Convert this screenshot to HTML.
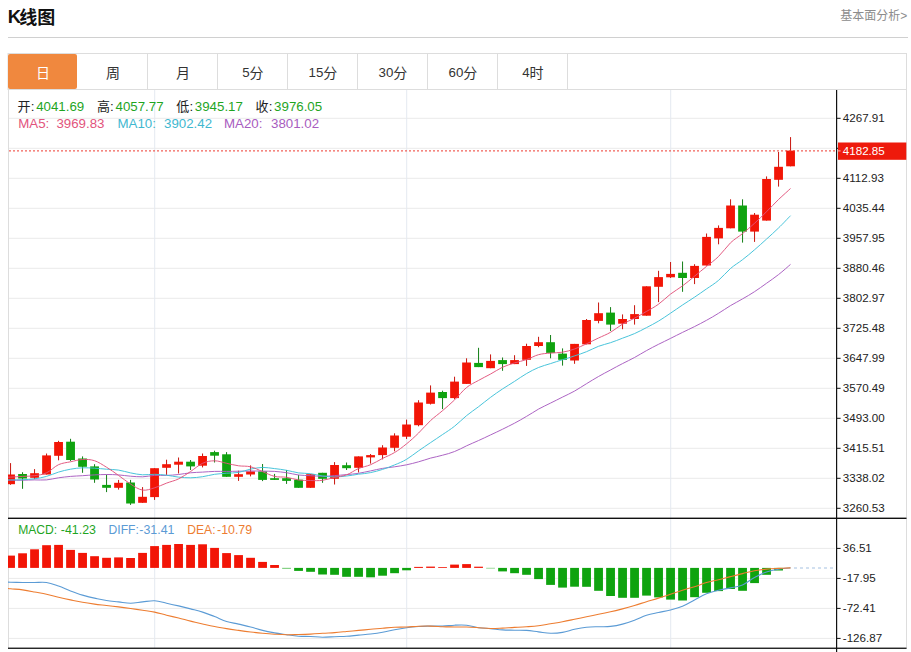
<!DOCTYPE html>
<html><head><meta charset="utf-8"><title>K</title>
<style>
html,body{margin:0;padding:0;background:#fff;}
body{width:911px;height:652px;position:relative;overflow:hidden;font-family:"Liberation Sans",sans-serif;}
svg text{font-family:"Liberation Sans","Noto Sans CJK SC",sans-serif;}
</style></head><body>
<svg width="911" height="652" viewBox="0 0 911 652" style="position:absolute;left:0;top:0">
<defs><clipPath id="cp"><rect x="8" y="90" width="828.5" height="560"/></clipPath></defs>
<rect width="911" height="652" fill="#fff"/>
<text x="7.7" y="22.8" font-size="18.5" font-weight="bold" fill="#111">K</text>
<text x="19.3" y="23.6" font-size="18" font-weight="bold" fill="#111">线图</text>
<text x="840.2" y="20" font-size="12" fill="#8c8c8c">基本面分析</text>
<text x="900.2" y="20" font-size="12" fill="#8c8c8c">&gt;</text>
<rect x="8" y="37" width="900" height="1" fill="#d0d0d0"/>
<rect x="8" y="53.5" width="898.5" height="36" fill="#fff" stroke="#ddd" stroke-width="1"/>
<rect x="147.0" y="54" width="1" height="35" fill="#ddd"/>
<rect x="217.0" y="54" width="1" height="35" fill="#ddd"/>
<rect x="287.0" y="54" width="1" height="35" fill="#ddd"/>
<rect x="357.0" y="54" width="1" height="35" fill="#ddd"/>
<rect x="427.0" y="54" width="1" height="35" fill="#ddd"/>
<rect x="497.0" y="54" width="1" height="35" fill="#ddd"/>
<rect x="567.0" y="54" width="1" height="35" fill="#ddd"/>
<rect x="8" y="54" width="69" height="35" rx="2" fill="#f0883e"/>
<text x="35.9" y="77.6" font-size="14" fill="#fff">日</text>
<text x="105.9" y="77.6" font-size="14" fill="#333">周</text>
<text x="175.9" y="77.6" font-size="14" fill="#333">月</text>
<text x="242.2" y="77.3" font-size="13.3" fill="#333">5</text>
<text x="249.6" y="77.6" font-size="14" fill="#333">分</text>
<text x="308.5" y="77.3" font-size="13.3" fill="#333">15</text>
<text x="323.3" y="77.6" font-size="14" fill="#333">分</text>
<text x="378.5" y="77.3" font-size="13.3" fill="#333">30</text>
<text x="393.3" y="77.6" font-size="14" fill="#333">分</text>
<text x="448.5" y="77.3" font-size="13.3" fill="#333">60</text>
<text x="463.3" y="77.6" font-size="14" fill="#333">分</text>
<text x="522.2" y="77.3" font-size="13.3" fill="#333">4</text>
<text x="529.6" y="77.6" font-size="14" fill="#333">时</text>
<rect x="8" y="90" width="1" height="558" fill="#ddd"/>
<rect x="906" y="54" width="1" height="595" fill="#ddd"/>
<rect x="9" y="117.8" width="826" height="1" fill="#eaeaea"/>
<rect x="9" y="147.8" width="826" height="1" fill="#eaeaea"/>
<rect x="9" y="177.8" width="826" height="1" fill="#eaeaea"/>
<rect x="9" y="207.8" width="826" height="1" fill="#eaeaea"/>
<rect x="9" y="237.8" width="826" height="1" fill="#eaeaea"/>
<rect x="9" y="267.8" width="826" height="1" fill="#eaeaea"/>
<rect x="9" y="297.8" width="826" height="1" fill="#eaeaea"/>
<rect x="9" y="327.8" width="826" height="1" fill="#eaeaea"/>
<rect x="9" y="357.8" width="826" height="1" fill="#eaeaea"/>
<rect x="9" y="387.8" width="826" height="1" fill="#eaeaea"/>
<rect x="9" y="417.8" width="826" height="1" fill="#eaeaea"/>
<rect x="9" y="447.8" width="826" height="1" fill="#eaeaea"/>
<rect x="9" y="477.8" width="826" height="1" fill="#eaeaea"/>
<rect x="9" y="507.8" width="826" height="1" fill="#eaeaea"/>
<rect x="9" y="547.9" width="826" height="1" fill="#eaeaea"/>
<rect x="9" y="577.9" width="826" height="1" fill="#eaeaea"/>
<rect x="9" y="607.9" width="826" height="1" fill="#eaeaea"/>
<rect x="9" y="637.9" width="826" height="1" fill="#eaeaea"/>
<rect x="154.2" y="90" width="1" height="558" fill="#e4e9f0"/>
<rect x="406.2" y="90" width="1" height="558" fill="#e4e9f0"/>
<rect x="670.2" y="90" width="1" height="558" fill="#e4e9f0"/>
<g clip-path="url(#cp)">
<rect x="10.05" y="463.1" width="1" height="21.7" fill="#c9160e"/>
<rect x="6.15" y="474.5" width="8.8" height="9.7" fill="#f21506"/>
<rect x="22.05" y="472.2" width="1" height="16.6" fill="#137f17"/>
<rect x="18.15" y="474.0" width="8.8" height="4.5" fill="#0fa30f"/>
<rect x="34.05" y="469.1" width="1" height="10.1" fill="#c9160e"/>
<rect x="30.15" y="473.2" width="8.8" height="4.6" fill="#f21506"/>
<rect x="46.05" y="453.5" width="1" height="21.0" fill="#c9160e"/>
<rect x="42.15" y="455.4" width="8.8" height="19.1" fill="#f21506"/>
<rect x="58.05" y="440.8" width="1" height="19.5" fill="#c9160e"/>
<rect x="54.15" y="442.0" width="8.8" height="13.8" fill="#f21506"/>
<rect x="70.05" y="438.8" width="1" height="22.3" fill="#137f17"/>
<rect x="66.15" y="441.7" width="8.8" height="18.3" fill="#0fa30f"/>
<rect x="82.05" y="456.4" width="1" height="16.4" fill="#137f17"/>
<rect x="78.15" y="458.5" width="8.8" height="8.3" fill="#0fa30f"/>
<rect x="94.05" y="464.2" width="1" height="18.6" fill="#137f17"/>
<rect x="90.15" y="466.4" width="8.8" height="13.1" fill="#0fa30f"/>
<rect x="106.05" y="474.5" width="1" height="17.6" fill="#137f17"/>
<rect x="102.15" y="484.9" width="8.8" height="2.9" fill="#0fa30f"/>
<rect x="118.05" y="479.9" width="1" height="9.7" fill="#c9160e"/>
<rect x="114.15" y="482.8" width="8.8" height="5.0" fill="#f21506"/>
<rect x="130.05" y="479.9" width="1" height="25.0" fill="#137f17"/>
<rect x="126.15" y="482.5" width="8.8" height="21.0" fill="#0fa30f"/>
<rect x="142.05" y="487.1" width="1" height="15.7" fill="#c9160e"/>
<rect x="138.15" y="496.8" width="8.8" height="6.0" fill="#f21506"/>
<rect x="154.05" y="468.2" width="1" height="31.7" fill="#c9160e"/>
<rect x="150.15" y="468.2" width="8.8" height="28.9" fill="#f21506"/>
<rect x="166.05" y="459.7" width="1" height="15.2" fill="#c9160e"/>
<rect x="162.15" y="464.2" width="8.8" height="3.6" fill="#f21506"/>
<rect x="178.05" y="457.5" width="1" height="16.0" fill="#c9160e"/>
<rect x="174.15" y="461.7" width="8.8" height="3.0" fill="#f21506"/>
<rect x="190.05" y="460.0" width="1" height="10.0" fill="#137f17"/>
<rect x="186.15" y="461.7" width="8.8" height="4.7" fill="#0fa30f"/>
<rect x="202.05" y="453.5" width="1" height="13.9" fill="#c9160e"/>
<rect x="198.15" y="456.0" width="8.8" height="9.7" fill="#f21506"/>
<rect x="214.05" y="450.7" width="1" height="11.8" fill="#137f17"/>
<rect x="210.15" y="452.1" width="8.8" height="3.6" fill="#0fa30f"/>
<rect x="226.05" y="452.1" width="1" height="24.7" fill="#137f17"/>
<rect x="222.15" y="454.3" width="8.8" height="22.5" fill="#0fa30f"/>
<rect x="238.05" y="470.7" width="1" height="10.2" fill="#c9160e"/>
<rect x="234.15" y="474.2" width="8.8" height="2.6" fill="#f21506"/>
<rect x="250.05" y="465.4" width="1" height="11.0" fill="#c9160e"/>
<rect x="246.15" y="471.4" width="8.8" height="3.1" fill="#f21506"/>
<rect x="262.05" y="464.0" width="1" height="17.1" fill="#137f17"/>
<rect x="258.15" y="471.4" width="8.8" height="8.5" fill="#0fa30f"/>
<rect x="274.05" y="473.9" width="1" height="6.0" fill="#137f17"/>
<rect x="270.15" y="478.2" width="8.8" height="1.7" fill="#0fa30f"/>
<rect x="286.05" y="470.0" width="1" height="13.9" fill="#137f17"/>
<rect x="282.15" y="478.2" width="8.8" height="2.7" fill="#0fa30f"/>
<rect x="298.05" y="474.9" width="1" height="12.9" fill="#137f17"/>
<rect x="294.15" y="479.7" width="8.8" height="8.1" fill="#0fa30f"/>
<rect x="310.05" y="474.2" width="1" height="13.6" fill="#c9160e"/>
<rect x="306.15" y="474.2" width="8.8" height="13.6" fill="#f21506"/>
<rect x="322.05" y="472.8" width="1" height="10.0" fill="#137f17"/>
<rect x="318.15" y="472.8" width="8.8" height="6.0" fill="#0fa30f"/>
<rect x="334.05" y="462.1" width="1" height="22.4" fill="#c9160e"/>
<rect x="330.15" y="465.0" width="8.8" height="13.8" fill="#f21506"/>
<rect x="346.05" y="462.5" width="1" height="7.5" fill="#137f17"/>
<rect x="342.15" y="465.2" width="8.8" height="3.0" fill="#0fa30f"/>
<rect x="358.05" y="456.4" width="1" height="16.1" fill="#c9160e"/>
<rect x="354.15" y="456.4" width="8.8" height="11.4" fill="#f21506"/>
<rect x="370.05" y="454.0" width="1" height="9.6" fill="#c9160e"/>
<rect x="366.15" y="455.1" width="8.8" height="2.3" fill="#f21506"/>
<rect x="382.05" y="445.2" width="1" height="14.2" fill="#c9160e"/>
<rect x="378.15" y="447.5" width="8.8" height="7.6" fill="#f21506"/>
<rect x="394.05" y="433.3" width="1" height="18.0" fill="#c9160e"/>
<rect x="390.15" y="435.5" width="8.8" height="12.3" fill="#f21506"/>
<rect x="406.05" y="419.6" width="1" height="19.4" fill="#c9160e"/>
<rect x="402.15" y="424.5" width="8.8" height="12.2" fill="#f21506"/>
<rect x="418.05" y="400.2" width="1" height="26.1" fill="#c9160e"/>
<rect x="414.15" y="402.5" width="8.8" height="22.7" fill="#f21506"/>
<rect x="430.05" y="385.4" width="1" height="19.1" fill="#c9160e"/>
<rect x="426.15" y="392.6" width="8.8" height="11.2" fill="#f21506"/>
<rect x="442.05" y="390.7" width="1" height="18.4" fill="#137f17"/>
<rect x="438.15" y="392.0" width="8.8" height="6.1" fill="#0fa30f"/>
<rect x="454.05" y="376.7" width="1" height="22.5" fill="#c9160e"/>
<rect x="450.15" y="381.6" width="8.8" height="16.5" fill="#f21506"/>
<rect x="466.05" y="358.3" width="1" height="25.6" fill="#c9160e"/>
<rect x="462.15" y="362.5" width="8.8" height="21.4" fill="#f21506"/>
<rect x="478.05" y="347.8" width="1" height="19.3" fill="#137f17"/>
<rect x="474.15" y="362.9" width="8.8" height="4.2" fill="#0fa30f"/>
<rect x="490.05" y="354.4" width="1" height="13.8" fill="#c9160e"/>
<rect x="486.15" y="360.9" width="8.8" height="7.3" fill="#f21506"/>
<rect x="502.05" y="357.5" width="1" height="13.3" fill="#137f17"/>
<rect x="498.15" y="360.1" width="8.8" height="4.0" fill="#0fa30f"/>
<rect x="514.05" y="355.2" width="1" height="8.9" fill="#c9160e"/>
<rect x="510.15" y="360.1" width="8.8" height="4.0" fill="#f21506"/>
<rect x="526.05" y="343.7" width="1" height="22.2" fill="#c9160e"/>
<rect x="522.15" y="346.0" width="8.8" height="13.8" fill="#f21506"/>
<rect x="538.05" y="336.8" width="1" height="10.4" fill="#c9160e"/>
<rect x="534.15" y="342.2" width="8.8" height="3.8" fill="#f21506"/>
<rect x="550.05" y="335.0" width="1" height="23.3" fill="#137f17"/>
<rect x="546.15" y="342.2" width="8.8" height="10.7" fill="#0fa30f"/>
<rect x="562.05" y="348.4" width="1" height="17.2" fill="#137f17"/>
<rect x="558.15" y="353.6" width="8.8" height="6.2" fill="#0fa30f"/>
<rect x="574.05" y="343.9" width="1" height="19.9" fill="#c9160e"/>
<rect x="570.15" y="343.9" width="8.8" height="16.6" fill="#f21506"/>
<rect x="586.05" y="319.0" width="1" height="25.3" fill="#c9160e"/>
<rect x="582.15" y="320.0" width="8.8" height="24.3" fill="#f21506"/>
<rect x="598.05" y="302.5" width="1" height="20.8" fill="#c9160e"/>
<rect x="594.15" y="313.2" width="8.8" height="7.7" fill="#f21506"/>
<rect x="610.05" y="307.1" width="1" height="23.9" fill="#137f17"/>
<rect x="606.15" y="312.6" width="8.8" height="12.0" fill="#0fa30f"/>
<rect x="622.05" y="314.4" width="1" height="14.8" fill="#c9160e"/>
<rect x="618.15" y="319.0" width="8.8" height="4.7" fill="#f21506"/>
<rect x="634.05" y="305.2" width="1" height="19.4" fill="#c9160e"/>
<rect x="630.15" y="314.1" width="8.8" height="4.9" fill="#f21506"/>
<rect x="646.05" y="286.3" width="1" height="29.4" fill="#c9160e"/>
<rect x="642.15" y="286.3" width="8.8" height="29.4" fill="#f21506"/>
<rect x="658.05" y="270.8" width="1" height="31.3" fill="#c9160e"/>
<rect x="654.15" y="277.1" width="8.8" height="9.7" fill="#f21506"/>
<rect x="670.05" y="262.0" width="1" height="16.0" fill="#c9160e"/>
<rect x="666.15" y="273.9" width="8.8" height="3.4" fill="#f21506"/>
<rect x="682.05" y="261.5" width="1" height="30.3" fill="#137f17"/>
<rect x="678.15" y="272.8" width="8.8" height="5.2" fill="#0fa30f"/>
<rect x="694.05" y="264.2" width="1" height="19.9" fill="#c9160e"/>
<rect x="690.15" y="265.9" width="8.8" height="12.1" fill="#f21506"/>
<rect x="706.05" y="233.5" width="1" height="32.0" fill="#c9160e"/>
<rect x="702.15" y="236.9" width="8.8" height="28.6" fill="#f21506"/>
<rect x="718.05" y="225.4" width="1" height="18.9" fill="#c9160e"/>
<rect x="714.15" y="227.9" width="8.8" height="10.5" fill="#f21506"/>
<rect x="730.05" y="199.3" width="1" height="29.0" fill="#c9160e"/>
<rect x="726.15" y="205.5" width="8.8" height="22.8" fill="#f21506"/>
<rect x="742.05" y="199.3" width="1" height="43.3" fill="#137f17"/>
<rect x="738.15" y="205.5" width="8.8" height="26.1" fill="#0fa30f"/>
<rect x="754.05" y="213.0" width="1" height="28.9" fill="#c9160e"/>
<rect x="750.15" y="214.7" width="8.8" height="16.9" fill="#f21506"/>
<rect x="766.05" y="176.4" width="1" height="44.2" fill="#c9160e"/>
<rect x="762.15" y="179.0" width="8.8" height="41.6" fill="#f21506"/>
<rect x="778.05" y="152.0" width="1" height="34.6" fill="#c9160e"/>
<rect x="774.15" y="166.8" width="8.8" height="13.0" fill="#f21506"/>
<rect x="790.05" y="137.1" width="1" height="29.2" fill="#c9160e"/>
<rect x="786.15" y="150.6" width="8.8" height="15.7" fill="#f21506"/>
<path d="M-1.4 480.3C0.7 480.3 6.4 480.2 10.6 480.2C14.8 480.2 18.4 480.3 22.6 480.2C26.8 480.1 30.3 480.0 34.5 479.9C38.8 479.8 42.3 480.3 46.5 479.9C50.8 479.5 54.3 478.4 58.5 477.8C62.8 477.2 66.3 476.8 70.5 476.4C74.8 476.0 78.3 476.0 82.5 475.7C86.8 475.4 90.3 475.1 94.5 474.9C98.8 474.7 102.3 474.5 106.5 474.5C110.8 474.5 114.3 474.6 118.5 474.9C122.8 475.2 126.4 475.9 130.6 476.2C134.8 476.5 138.4 476.9 142.6 476.8C146.8 476.7 150.4 475.6 154.6 475.4C158.8 475.2 162.4 475.6 166.6 475.4C170.8 475.2 174.4 475.0 178.6 474.5C182.8 474.0 186.4 473.2 190.6 472.8C194.8 472.4 198.4 472.3 202.6 472.1C206.8 471.9 210.4 471.5 214.6 471.4C218.8 471.3 222.4 471.4 226.6 471.4C230.8 471.4 234.4 471.3 238.6 471.2C242.8 471.1 246.4 471.1 250.6 471.0C254.8 471.0 258.4 471.0 262.6 471.1C266.8 471.2 270.4 471.2 274.6 471.4C278.8 471.7 282.4 472.1 286.6 472.7C290.8 473.3 294.4 474.5 298.6 475.0C302.8 475.5 306.4 475.5 310.6 475.7C314.8 476.0 318.4 476.3 322.6 476.3C326.8 476.3 330.4 475.9 334.6 475.6C338.8 475.3 342.4 475.0 346.6 474.6C350.8 474.2 354.4 474.0 358.6 473.3C362.8 472.6 366.4 471.7 370.6 470.9C374.8 470.0 378.4 469.1 382.6 468.4C386.8 467.7 390.4 467.4 394.6 466.8C398.8 466.1 402.4 465.7 406.6 464.8C410.8 463.9 414.4 463.0 418.6 461.8C422.8 460.7 426.4 459.3 430.6 458.1C434.8 457.0 438.4 456.4 442.6 455.2C446.8 454.1 450.4 453.2 454.6 451.5C458.8 449.9 462.4 447.8 466.6 445.8C470.8 443.9 474.4 442.4 478.6 440.5C482.8 438.6 486.4 436.9 490.6 434.9C494.8 433.0 498.4 431.2 502.6 429.2C506.8 427.1 510.3 425.4 514.5 423.2C518.8 420.9 522.3 418.9 526.5 416.4C530.8 414.0 534.3 411.5 538.5 409.1C542.8 406.8 546.3 405.2 550.5 403.1C554.8 401.0 558.3 399.2 562.5 397.1C566.8 395.0 570.3 393.4 574.5 391.1C578.8 388.7 582.3 386.2 586.5 383.7C590.8 381.1 594.3 378.9 598.5 376.5C602.8 374.1 606.3 372.2 610.5 370.0C614.8 367.7 618.3 365.7 622.5 363.6C626.8 361.4 630.3 359.8 634.5 357.5C638.8 355.2 642.3 352.9 646.5 350.6C650.8 348.3 654.3 346.4 658.5 344.3C662.8 342.2 666.3 340.5 670.5 338.4C674.8 336.3 678.3 334.4 682.5 332.4C686.8 330.3 690.3 328.7 694.5 326.6C698.8 324.5 702.3 322.6 706.5 320.3C710.8 318.0 714.3 315.9 718.5 313.3C722.8 310.8 726.3 308.1 730.5 305.6C734.8 303.1 738.3 301.4 742.5 298.9C746.8 296.5 750.3 294.4 754.5 291.7C758.8 288.9 762.3 286.3 766.5 283.3C770.8 280.3 774.3 277.9 778.5 274.6C782.8 271.3 788.4 266.2 790.5 264.4" fill="none" stroke="#a85cc0" stroke-width="0.95"/>
<path d="M-1.4 480.0C0.7 480.0 6.4 480.0 10.6 479.9C14.8 479.8 18.4 479.9 22.6 479.7C26.8 479.5 30.3 479.4 34.5 478.8C38.8 478.2 42.3 477.6 46.5 476.4C50.8 475.2 54.3 473.4 58.5 472.1C62.8 470.8 66.3 470.0 70.5 469.2C74.8 468.4 78.3 468.0 82.5 467.8C86.8 467.6 90.3 468.0 94.5 468.2C98.8 468.4 102.3 468.9 106.5 469.2C110.8 469.5 114.3 469.4 118.5 470.1C122.8 470.7 126.4 472.1 130.6 472.9C134.8 473.8 138.4 474.5 142.6 474.8C146.8 475.0 150.4 474.2 154.6 474.3C158.8 474.3 162.4 474.7 166.6 475.2C170.8 475.7 174.4 476.7 178.6 477.1C182.8 477.6 186.4 477.8 190.6 477.8C194.8 477.7 198.4 477.3 202.6 476.7C206.8 476.1 210.4 474.9 214.6 474.3C218.8 473.7 222.4 473.6 226.6 473.2C230.8 472.9 234.4 473.1 238.6 472.4C242.8 471.6 246.4 470.0 250.6 469.1C254.8 468.3 258.4 467.5 262.6 467.4C266.8 467.4 270.4 468.1 274.6 468.6C278.8 469.1 282.4 469.5 286.6 470.3C290.8 471.0 294.4 472.3 298.6 472.9C302.8 473.5 306.4 473.1 310.6 473.7C314.8 474.2 318.4 475.4 322.6 476.0C326.8 476.5 330.4 476.9 334.6 476.9C338.8 476.9 342.4 476.5 346.6 476.0C350.8 475.6 354.4 474.8 358.6 474.2C362.8 473.7 366.4 473.5 370.6 472.6C374.8 471.8 378.4 470.7 382.6 469.4C386.8 468.0 390.4 466.7 394.6 464.9C398.8 463.2 402.4 461.8 406.6 459.3C410.8 456.8 414.4 453.7 418.6 450.8C422.8 447.8 426.4 445.5 430.6 442.6C434.8 439.8 438.4 437.4 442.6 434.5C446.8 431.7 450.4 429.5 454.6 426.2C458.8 422.9 462.4 419.0 466.6 415.6C470.8 412.2 474.4 409.9 478.6 406.7C482.8 403.5 486.4 400.4 490.6 397.3C494.8 394.2 498.4 391.7 502.6 388.9C506.8 386.2 510.3 384.1 514.5 381.4C518.8 378.7 522.3 376.0 526.5 373.6C530.8 371.1 534.3 369.3 538.5 367.5C542.8 365.8 546.3 364.9 550.5 363.6C554.8 362.2 558.3 361.0 562.5 359.7C566.8 358.4 570.3 357.4 574.5 355.9C578.8 354.5 582.3 353.4 586.5 351.7C590.8 350.0 594.3 347.9 598.5 346.3C602.8 344.7 606.3 344.1 610.5 342.7C614.8 341.3 618.3 339.8 622.5 338.2C626.8 336.6 630.3 335.4 634.5 333.6C638.8 331.7 642.3 329.8 646.5 327.6C650.8 325.4 654.3 323.6 658.5 321.1C662.8 318.6 666.3 316.0 670.5 313.2C674.8 310.4 678.3 307.8 682.5 305.0C686.8 302.2 690.3 300.0 694.5 297.2C698.8 294.4 702.3 291.8 706.5 288.9C710.8 286.0 714.3 283.9 718.5 280.4C722.8 276.8 726.3 272.1 730.5 268.5C734.8 264.8 738.3 263.0 742.5 259.7C746.8 256.5 750.3 253.4 754.5 249.8C758.8 246.2 762.3 242.9 766.5 239.1C770.8 235.2 774.3 232.1 778.5 228.0C782.8 223.9 788.4 217.8 790.5 215.7" fill="none" stroke="#3fc1d8" stroke-width="0.95"/>
<path d="M-1.4 477.3C0.7 477.3 6.4 477.3 10.6 477.1C14.8 476.9 18.4 476.6 22.6 476.4C26.8 476.2 30.3 476.3 34.5 475.7C38.8 475.1 42.3 474.7 46.5 472.8C50.8 470.9 54.3 466.6 58.5 464.7C62.8 462.8 66.3 462.7 70.5 461.8C74.8 460.9 78.3 459.7 82.5 459.5C86.8 459.3 90.3 459.4 94.5 460.7C98.8 462.1 102.3 464.7 106.5 467.2C110.8 469.8 114.3 472.4 118.5 475.4C122.8 478.3 126.4 481.5 130.6 484.1C134.8 486.7 138.4 489.4 142.6 490.1C146.8 490.7 150.4 489.0 154.6 487.8C158.8 486.6 162.4 484.7 166.6 483.1C170.8 481.5 174.4 480.9 178.6 478.9C182.8 476.8 186.4 474.2 190.6 471.5C194.8 468.7 198.4 465.2 202.6 463.3C206.8 461.4 210.4 460.8 214.6 460.8C218.8 460.8 222.4 462.4 226.6 463.3C230.8 464.2 234.4 465.2 238.6 465.8C242.8 466.4 246.4 465.8 250.6 466.8C254.8 467.8 258.4 469.9 262.6 471.6C266.8 473.3 270.4 475.4 274.6 476.4C278.8 477.4 282.4 476.6 286.6 477.3C290.8 477.9 294.4 479.4 298.6 480.0C302.8 480.6 306.4 480.5 310.6 480.5C314.8 480.6 318.4 480.9 322.6 480.3C326.8 479.8 330.4 478.3 334.6 477.3C338.8 476.4 342.4 476.3 346.6 474.8C350.8 473.3 354.4 470.3 358.6 468.5C362.8 466.8 366.4 466.5 370.6 464.7C374.8 462.9 378.4 460.6 382.6 458.4C386.8 456.3 390.4 455.1 394.6 452.5C398.8 450.0 402.4 447.2 406.6 443.8C410.8 440.4 414.4 437.1 418.6 433.0C422.8 428.9 426.4 424.4 430.6 420.5C434.8 416.6 438.4 414.3 442.6 410.6C446.8 407.0 450.4 403.9 454.6 399.9C458.8 395.8 462.4 390.9 466.6 387.5C470.8 384.1 474.4 382.7 478.6 380.4C482.8 378.0 486.4 376.3 490.6 374.0C494.8 371.7 498.4 369.2 502.6 367.2C506.8 365.3 510.3 364.3 514.5 362.9C518.8 361.6 522.3 361.1 526.5 359.6C530.8 358.2 534.3 355.8 538.5 354.7C542.8 353.5 546.3 353.5 550.5 353.1C554.8 352.6 558.3 352.9 562.5 352.2C566.8 351.5 570.3 350.4 574.5 349.0C578.8 347.5 582.3 345.7 586.5 343.8C590.8 341.8 594.3 340.0 598.5 338.0C602.8 336.0 606.3 334.7 610.5 332.3C614.8 329.9 618.3 326.6 622.5 324.1C626.8 321.7 630.3 320.4 634.5 318.2C638.8 316.0 642.3 313.9 646.5 311.4C650.8 309.0 654.3 307.3 658.5 304.2C662.8 301.2 666.3 297.3 670.5 294.1C674.8 290.9 678.3 289.0 682.5 285.9C686.8 282.8 690.3 279.7 694.5 276.2C698.8 272.8 702.3 269.8 706.5 266.4C710.8 262.9 714.3 260.6 718.5 256.5C722.8 252.4 726.3 246.9 730.5 242.8C734.8 238.8 738.3 237.0 742.5 233.6C746.8 230.1 750.3 227.1 754.5 223.3C758.8 219.5 762.3 215.9 766.5 211.7C770.8 207.6 774.3 203.6 778.5 199.5C782.8 195.5 788.4 190.5 790.5 188.5" fill="none" stroke="#e2547c" stroke-width="0.95"/>
<rect x="6.15" y="555.6" width="8.8" height="12.3" fill="#f21506"/>
<rect x="18.15" y="553.3" width="8.8" height="14.6" fill="#f21506"/>
<rect x="30.15" y="549.3" width="8.8" height="18.6" fill="#f21506"/>
<rect x="42.15" y="545.2" width="8.8" height="22.7" fill="#f21506"/>
<rect x="54.15" y="544.9" width="8.8" height="23.0" fill="#f21506"/>
<rect x="66.15" y="549.9" width="8.8" height="18.0" fill="#f21506"/>
<rect x="78.15" y="552.9" width="8.8" height="15.0" fill="#f21506"/>
<rect x="90.15" y="556.2" width="8.8" height="11.7" fill="#f21506"/>
<rect x="102.15" y="557.8" width="8.8" height="10.1" fill="#f21506"/>
<rect x="114.15" y="557.4" width="8.8" height="10.5" fill="#f21506"/>
<rect x="126.15" y="558.0" width="8.8" height="9.9" fill="#f21506"/>
<rect x="138.15" y="552.9" width="8.8" height="15.0" fill="#f21506"/>
<rect x="150.15" y="546.1" width="8.8" height="21.8" fill="#f21506"/>
<rect x="162.15" y="544.9" width="8.8" height="23.0" fill="#f21506"/>
<rect x="174.15" y="544.0" width="8.8" height="23.9" fill="#f21506"/>
<rect x="186.15" y="544.9" width="8.8" height="23.0" fill="#f21506"/>
<rect x="198.15" y="544.3" width="8.8" height="23.6" fill="#f21506"/>
<rect x="210.15" y="547.9" width="8.8" height="20.0" fill="#f21506"/>
<rect x="222.15" y="553.1" width="8.8" height="14.8" fill="#f21506"/>
<rect x="234.15" y="555.1" width="8.8" height="12.8" fill="#f21506"/>
<rect x="246.15" y="557.8" width="8.8" height="10.1" fill="#f21506"/>
<rect x="258.15" y="561.9" width="8.8" height="6.0" fill="#f21506"/>
<rect x="270.15" y="565.0" width="8.8" height="2.9" fill="#f21506"/>
<rect x="282.15" y="567.9" width="8.8" height="0.6" fill="#0fa30f"/>
<rect x="294.15" y="567.9" width="8.8" height="3.0" fill="#0fa30f"/>
<rect x="306.15" y="567.9" width="8.8" height="3.9" fill="#0fa30f"/>
<rect x="318.15" y="567.9" width="8.8" height="6.6" fill="#0fa30f"/>
<rect x="330.15" y="567.9" width="8.8" height="6.9" fill="#0fa30f"/>
<rect x="342.15" y="567.9" width="8.8" height="8.9" fill="#0fa30f"/>
<rect x="354.15" y="567.9" width="8.8" height="8.9" fill="#0fa30f"/>
<rect x="366.15" y="567.9" width="8.8" height="9.4" fill="#0fa30f"/>
<rect x="378.15" y="567.9" width="8.8" height="7.8" fill="#0fa30f"/>
<rect x="390.15" y="567.9" width="8.8" height="5.3" fill="#0fa30f"/>
<rect x="402.15" y="567.9" width="8.8" height="2.4" fill="#0fa30f"/>
<rect x="414.15" y="566.9" width="8.8" height="1.0" fill="#f21506"/>
<rect x="426.15" y="566.6" width="8.8" height="1.3" fill="#f21506"/>
<rect x="438.15" y="567.1" width="8.8" height="0.8" fill="#f21506"/>
<rect x="450.15" y="564.6" width="8.8" height="3.3" fill="#f21506"/>
<rect x="462.15" y="564.1" width="8.8" height="3.8" fill="#f21506"/>
<rect x="474.15" y="566.7" width="8.8" height="1.2" fill="#f21506"/>
<rect x="486.15" y="567.9" width="8.8" height="0.4" fill="#0fa30f"/>
<rect x="498.15" y="567.9" width="8.8" height="3.5" fill="#0fa30f"/>
<rect x="510.15" y="567.9" width="8.8" height="5.3" fill="#0fa30f"/>
<rect x="522.15" y="567.9" width="8.8" height="6.9" fill="#0fa30f"/>
<rect x="534.15" y="567.9" width="8.8" height="11.2" fill="#0fa30f"/>
<rect x="546.15" y="567.9" width="8.8" height="17.0" fill="#0fa30f"/>
<rect x="558.15" y="567.9" width="8.8" height="19.7" fill="#0fa30f"/>
<rect x="570.15" y="567.9" width="8.8" height="18.8" fill="#0fa30f"/>
<rect x="582.15" y="567.9" width="8.8" height="18.9" fill="#0fa30f"/>
<rect x="594.15" y="567.9" width="8.8" height="22.9" fill="#0fa30f"/>
<rect x="606.15" y="567.9" width="8.8" height="28.1" fill="#0fa30f"/>
<rect x="618.15" y="567.9" width="8.8" height="29.9" fill="#0fa30f"/>
<rect x="630.15" y="567.9" width="8.8" height="29.9" fill="#0fa30f"/>
<rect x="642.15" y="567.9" width="8.8" height="27.7" fill="#0fa30f"/>
<rect x="654.15" y="567.9" width="8.8" height="29.5" fill="#0fa30f"/>
<rect x="666.15" y="567.9" width="8.8" height="31.7" fill="#0fa30f"/>
<rect x="678.15" y="567.9" width="8.8" height="32.6" fill="#0fa30f"/>
<rect x="690.15" y="567.9" width="8.8" height="29.3" fill="#0fa30f"/>
<rect x="702.15" y="567.9" width="8.8" height="24.9" fill="#0fa30f"/>
<rect x="714.15" y="567.9" width="8.8" height="23.2" fill="#0fa30f"/>
<rect x="726.15" y="567.9" width="8.8" height="21.1" fill="#0fa30f"/>
<rect x="738.15" y="567.9" width="8.8" height="22.9" fill="#0fa30f"/>
<rect x="750.15" y="567.9" width="8.8" height="15.2" fill="#0fa30f"/>
<rect x="762.15" y="567.9" width="8.8" height="6.9" fill="#0fa30f"/>
<rect x="774.15" y="567.9" width="8.8" height="2.6" fill="#0fa30f"/>
<path d="M-1.4 582.2C0.7 582.2 6.4 582.1 10.6 582.2C14.8 582.3 18.4 582.4 22.6 582.5C26.8 582.6 30.3 582.5 34.5 582.5C38.8 582.5 42.3 581.9 46.5 582.5C50.8 583.1 54.3 584.6 58.5 586.1C62.8 587.6 66.3 589.4 70.5 591.0C74.8 592.6 78.3 593.9 82.5 595.1C86.8 596.3 90.3 597.2 94.5 598.1C98.8 599.0 102.3 599.8 106.5 600.5C110.8 601.2 114.3 601.4 118.5 601.9C122.8 602.4 126.4 603.3 130.6 603.3C134.8 603.3 138.4 602.3 142.6 601.9C146.8 601.5 150.4 600.6 154.6 600.8C158.8 601.0 162.4 602.3 166.6 603.2C170.8 604.1 174.4 604.9 178.6 605.9C182.8 606.9 186.4 607.8 190.6 608.9C194.8 610.0 198.4 610.8 202.6 612.1C206.8 613.4 210.4 615.0 214.6 616.6C218.8 618.2 222.4 620.2 226.6 621.5C230.8 622.8 234.4 623.1 238.6 624.1C242.8 625.1 246.4 625.9 250.6 627.0C254.8 628.1 258.4 629.4 262.6 630.4C266.8 631.4 270.4 632.1 274.6 632.9C278.8 633.7 282.4 634.1 286.6 634.7C290.8 635.3 294.4 635.9 298.6 636.2C302.8 636.5 306.4 636.3 310.6 636.5C314.8 636.7 318.4 637.2 322.6 637.2C326.8 637.2 330.4 636.9 334.6 636.7C338.8 636.5 342.4 636.6 346.6 636.3C350.8 636.0 354.4 635.5 358.6 635.1C362.8 634.7 366.4 634.5 370.6 634.0C374.8 633.5 378.4 633.0 382.6 632.2C386.8 631.4 390.4 630.5 394.6 629.7C398.8 628.9 402.4 628.3 406.6 627.7C410.8 627.1 414.4 626.8 418.6 626.5C422.8 626.2 426.4 626.2 430.6 626.1C434.8 626.0 438.4 626.3 442.6 626.1C446.8 625.9 450.4 625.4 454.6 625.2C458.8 625.0 462.4 624.8 466.6 625.2C470.8 625.6 474.4 627.1 478.6 627.7C482.8 628.3 486.4 628.2 490.6 628.6C494.8 629.0 498.4 629.6 502.6 629.9C506.8 630.2 510.3 630.1 514.5 630.2C518.8 630.3 522.3 630.1 526.5 630.4C530.8 630.7 534.3 631.4 538.5 631.9C542.8 632.4 546.3 633.2 550.5 633.3C554.8 633.4 558.3 633.1 562.5 632.4C566.8 631.7 570.3 630.2 574.5 629.3C578.8 628.4 582.3 627.7 586.5 627.2C590.8 626.7 594.3 626.8 598.5 626.7C602.8 626.6 606.3 626.9 610.5 626.4C614.8 625.9 618.3 625.2 622.5 624.1C626.8 623.0 630.3 621.8 634.5 620.2C638.8 618.6 642.3 616.5 646.5 615.2C650.8 613.9 654.3 613.4 658.5 612.5C662.8 611.6 666.3 611.1 670.5 610.0C674.8 608.9 678.3 608.0 682.5 606.2C686.8 604.4 690.3 602.1 694.5 599.9C698.8 597.7 702.3 595.5 706.5 593.8C710.8 592.1 714.3 591.2 718.5 590.2C722.8 589.2 726.3 588.8 730.5 587.9C734.8 587.0 738.3 586.8 742.5 585.0C746.8 583.2 750.3 579.7 754.5 577.4C758.8 575.1 762.3 573.3 766.5 571.9C770.8 570.5 774.3 569.9 778.5 569.2C782.8 568.5 788.4 568.1 790.5 567.9" fill="none" stroke="#5b9bd5" stroke-width="1.1"/>
<path d="M-1.4 587.5C0.7 587.7 6.4 588.4 10.6 588.8C14.8 589.2 18.4 589.3 22.6 589.9C26.8 590.5 30.3 591.2 34.5 592.0C38.8 592.8 42.3 593.3 46.5 594.2C50.8 595.1 54.3 596.2 58.5 597.2C62.8 598.2 66.3 599.0 70.5 599.9C74.8 600.8 78.3 601.6 82.5 602.3C86.8 603.0 90.3 603.5 94.5 604.1C98.8 604.7 102.3 605.0 106.5 605.5C110.8 606.0 114.3 606.4 118.5 606.9C122.8 607.4 126.4 607.9 130.6 608.5C134.8 609.1 138.4 609.7 142.6 610.3C146.8 610.9 150.4 611.2 154.6 612.1C158.8 613.0 162.4 614.2 166.6 615.2C170.8 616.2 174.4 617.0 178.6 618.0C182.8 619.0 186.4 620.1 190.6 621.1C194.8 622.1 198.4 623.1 202.6 624.0C206.8 624.9 210.4 625.7 214.6 626.5C218.8 627.3 222.4 627.9 226.6 628.6C230.8 629.3 234.4 629.8 238.6 630.4C242.8 631.0 246.4 631.5 250.6 632.0C254.8 632.5 258.4 632.9 262.6 633.3C266.8 633.7 270.4 634.0 274.6 634.2C278.8 634.4 282.4 634.6 286.6 634.7C290.8 634.8 294.4 634.6 298.6 634.5C302.8 634.4 306.4 634.3 310.6 634.1C314.8 633.9 318.4 633.6 322.6 633.3C326.8 633.0 330.4 632.9 334.6 632.6C338.8 632.3 342.4 631.9 346.6 631.5C350.8 631.1 354.4 630.8 358.6 630.4C362.8 630.0 366.4 629.7 370.6 629.3C374.8 628.9 378.4 628.7 382.6 628.3C386.8 627.9 390.4 627.4 394.6 627.2C398.8 627.0 402.4 627.2 406.6 627.0C410.8 626.8 414.4 626.5 418.6 626.3C422.8 626.1 426.4 626.0 430.6 626.1C434.8 626.2 438.4 626.5 442.6 626.7C446.8 626.9 450.4 626.9 454.6 627.0C458.8 627.1 462.4 626.9 466.6 627.0C470.8 627.1 474.4 627.4 478.6 627.7C482.8 628.0 486.4 628.4 490.6 628.5C494.8 628.6 498.4 628.3 502.6 628.1C506.8 627.9 510.3 627.6 514.5 627.4C518.8 627.2 522.3 627.1 526.5 626.8C530.8 626.5 534.3 626.3 538.5 625.8C542.8 625.3 546.3 624.5 550.5 623.8C554.8 623.1 558.3 622.6 562.5 621.8C566.8 621.0 570.3 620.2 574.5 619.3C578.8 618.4 582.3 617.7 586.5 616.8C590.8 615.9 594.3 615.2 598.5 614.3C602.8 613.4 606.3 612.7 610.5 611.8C614.8 610.9 618.3 610.0 622.5 608.9C626.8 607.8 630.3 606.8 634.5 605.5C638.8 604.2 642.3 603.0 646.5 601.7C650.8 600.4 654.3 599.4 658.5 598.1C662.8 596.8 666.3 595.6 670.5 594.2C674.8 592.8 678.3 591.5 682.5 590.2C686.8 588.9 690.3 588.0 694.5 586.7C698.8 585.4 702.3 583.7 706.5 582.5C710.8 581.3 714.3 580.8 718.5 579.8C722.8 578.8 726.3 577.7 730.5 576.6C734.8 575.5 738.3 574.6 742.5 573.6C746.8 572.6 750.3 571.6 754.5 570.8C758.8 570.0 762.3 569.5 766.5 569.1C770.8 568.7 774.3 568.6 778.5 568.4C782.8 568.2 788.4 568.0 790.5 567.9" fill="none" stroke="#ed7d31" stroke-width="1.1"/>
</g>
<line x1="9" y1="150.9" x2="836" y2="150.9" stroke="#ee3a30" stroke-width="1" stroke-dasharray="2 2"/>
<line x1="794" y1="568" x2="834" y2="568" stroke="#c3d6ec" stroke-width="1.4" stroke-dasharray="3 3"/>
<rect x="8" y="517.6" width="898.5" height="1.4" fill="#111"/>
<rect x="8" y="647.6" width="898.5" height="1.3" fill="#111"/>
<rect x="836" y="90" width="1.2" height="562" fill="#111"/>
<rect x="837" y="117.8" width="3.6" height="1" fill="#111"/>
<text x="842.8" y="122.4" font-size="11.6" fill="#222">4267.91</text>
<rect x="837" y="147.8" width="3.6" height="1" fill="#111"/>
<text x="842.8" y="152.4" font-size="11.6" fill="#222">4190.42</text>
<rect x="837" y="177.8" width="3.6" height="1" fill="#111"/>
<text x="842.8" y="182.4" font-size="11.6" fill="#222">4112.93</text>
<rect x="837" y="207.8" width="3.6" height="1" fill="#111"/>
<text x="842.8" y="212.4" font-size="11.6" fill="#222">4035.44</text>
<rect x="837" y="237.8" width="3.6" height="1" fill="#111"/>
<text x="842.8" y="242.4" font-size="11.6" fill="#222">3957.95</text>
<rect x="837" y="267.8" width="3.6" height="1" fill="#111"/>
<text x="842.8" y="272.4" font-size="11.6" fill="#222">3880.46</text>
<rect x="837" y="297.8" width="3.6" height="1" fill="#111"/>
<text x="842.8" y="302.4" font-size="11.6" fill="#222">3802.97</text>
<rect x="837" y="327.8" width="3.6" height="1" fill="#111"/>
<text x="842.8" y="332.4" font-size="11.6" fill="#222">3725.48</text>
<rect x="837" y="357.8" width="3.6" height="1" fill="#111"/>
<text x="842.8" y="362.4" font-size="11.6" fill="#222">3647.99</text>
<rect x="837" y="387.8" width="3.6" height="1" fill="#111"/>
<text x="842.8" y="392.4" font-size="11.6" fill="#222">3570.49</text>
<rect x="837" y="417.8" width="3.6" height="1" fill="#111"/>
<text x="842.8" y="422.4" font-size="11.6" fill="#222">3493.00</text>
<rect x="837" y="447.8" width="3.6" height="1" fill="#111"/>
<text x="842.8" y="452.4" font-size="11.6" fill="#222">3415.51</text>
<rect x="837" y="477.8" width="3.6" height="1" fill="#111"/>
<text x="842.8" y="482.4" font-size="11.6" fill="#222">3338.02</text>
<rect x="837" y="507.8" width="3.6" height="1" fill="#111"/>
<text x="842.8" y="512.4" font-size="11.6" fill="#222">3260.53</text>
<rect x="837" y="547.9" width="3.6" height="1" fill="#111"/>
<text x="842.8" y="552.1" font-size="11.6" fill="#222">36.51</text>
<rect x="837" y="577.9" width="3.6" height="1" fill="#111"/>
<text x="842.8" y="582.1" font-size="11.6" fill="#222">-17.95</text>
<rect x="837" y="607.9" width="3.6" height="1" fill="#111"/>
<text x="842.8" y="612.1" font-size="11.6" fill="#222">-72.41</text>
<rect x="837" y="637.9" width="3.6" height="1" fill="#111"/>
<text x="842.8" y="642.1" font-size="11.6" fill="#222">-126.87</text>
<rect x="838" y="142.5" width="68.3" height="17.3" fill="#ee1a0c"/>
<rect x="837.2" y="150.4" width="3.4" height="1" fill="#f7b3ad"/>
<text x="842.8" y="155.3" font-size="11.6" fill="#fff">4182.85</text>
<text x="17.6" y="111.1" font-size="13" fill="#222">开</text>
<text x="30.8" y="110.7" font-size="13.3" fill="#222">:</text>
<text x="36.2" y="110.7" font-size="13.3" fill="#1fa51f">4041.69</text>
<text x="96.9" y="111.1" font-size="13" fill="#222">高</text>
<text x="110.1" y="110.7" font-size="13.3" fill="#222">:</text>
<text x="115.5" y="110.7" font-size="13.3" fill="#1fa51f">4057.77</text>
<text x="176.2" y="111.1" font-size="13" fill="#222">低</text>
<text x="189.4" y="110.7" font-size="13.3" fill="#222">:</text>
<text x="194.8" y="110.7" font-size="13.3" fill="#1fa51f">3945.17</text>
<text x="255.5" y="111.1" font-size="13" fill="#222">收</text>
<text x="268.7" y="110.7" font-size="13.3" fill="#222">:</text>
<text x="274.1" y="110.7" font-size="13.3" fill="#1fa51f">3976.05</text>
<text x="18.2" y="128.2" font-size="13.3" fill="#e2547c">MA5: <tspan x="56.4">3969.83</tspan></text>
<text x="117.5" y="128.2" font-size="13.3" fill="#3fb8d0">MA10: <tspan x="164">3902.42</tspan></text>
<text x="224" y="128.2" font-size="13.3" fill="#a85cc0">MA20: <tspan x="271">3801.02</tspan></text>
<text x="18.2" y="534" font-size="12.1" fill="#1fa51f">MACD: <tspan x="60.8" font-size="12.4">-41.23</tspan></text>
<text x="108.6" y="534" font-size="12.1" fill="#5b9bd5">DIFF: <tspan x="139.3" font-size="12.4">-31.41</tspan></text>
<text x="187.3" y="534" font-size="12.1" fill="#ed7d31">DEA: <tspan x="217" font-size="12.4">-10.79</tspan></text>
</svg>
</body></html>
